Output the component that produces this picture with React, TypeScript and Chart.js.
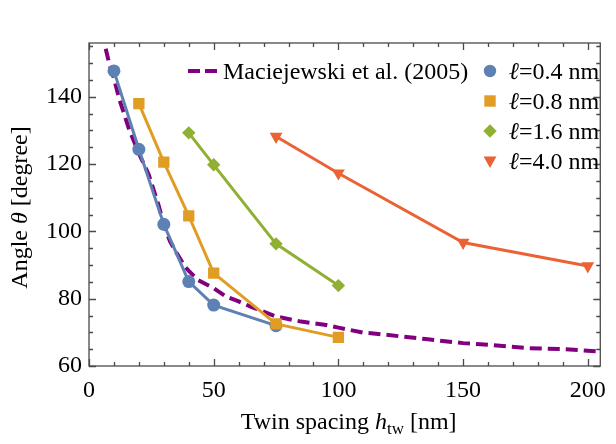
import React, { useEffect, useRef } from "react";
import { Chart, registerables } from "chart.js";

Chart.register(...registerables);

const FONT = "'Liberation Serif', 'Times New Roman', serif";
Chart.defaults.font.family = FONT;
Chart.defaults.font.size = 24;
Chart.defaults.color = "#000";

// ---- data ----
const X_04 = [10, 20, 30, 40, 50, 75];
const Y_04 = [147.7, 124.4, 102.1, 85.1, 78.1, 72.0];
const X_08 = [20, 30, 40, 50, 75, 100];
const Y_08 = [138.0, 120.6, 104.6, 87.6, 72.5, 68.5];
const X_16 = [40, 50, 75, 100];
const Y_16 = [129.3, 119.8, 96.3, 83.9];
const X_40 = [75, 100, 150, 200];
const Y_40 = [128.2, 117.3, 96.7, 89.7];
const X_REF = [6.7, 8.2, 10, 12.2, 16.1, 20, 24, 28, 30, 32.5, 34.4, 38.4, 40, 43.6, 50, 55, 60, 65, 75, 85, 95, 100, 110, 115, 125, 135, 150, 160, 176, 190, 205];
const Y_REF = [154.3, 149.6, 145.5, 139.2, 130.3, 123.2, 116.8, 107.5, 102, 97, 94.5, 89.6, 88.3, 85.6, 83.1, 80.6, 79.2, 77.6, 74.7, 73.2, 72.2, 71.4, 69.9, 69.6, 68.8, 68.0, 66.8, 66.3, 65.3, 65.0, 64.3];

const REF_LABEL = "Maciejewski et al. (2005)";
const ELL_VALUES = ["0.4", "0.8", "1.6", "4.0"];

const X_MIN = 0, X_MAX = 205, X_MAJOR = 50, X_MINOR = 10;
const Y_MIN = 60, Y_MAX = 156, Y_MAJOR = 20, Y_MINOR = 5;

const BLUE = "#5E81B5";
const ORANGE = "#E19C24";
const GREEN = "#8FB032";
const RED = "#EB6235";
const PURPLE = "#800080";
const FRAME = "#4a4a4a";

const pts = (xs: number[], ys: number[]) => xs.map((x, i) => ({ x, y: ys[i] }));

function drawMarker(ctx: CanvasRenderingContext2D, style: string, x: number, y: number, color: string) {
  ctx.fillStyle = color;
  ctx.beginPath();
  if (style === "circle") {
    ctx.arc(x, y, 6.2, 0, Math.PI * 2);
  } else if (style === "rect") {
    ctx.rect(x - 5.7, y - 5.7, 11.4, 11.4);
  } else if (style === "rectRot") {
    ctx.moveTo(x, y - 6.7);
    ctx.lineTo(x + 6.7, y);
    ctx.lineTo(x, y + 6.7);
    ctx.lineTo(x - 6.7, y);
    ctx.closePath();
  } else {
    ctx.moveTo(x - 6.5, y - 4.5);
    ctx.lineTo(x + 6.5, y - 4.5);
    ctx.lineTo(x, y + 7);
    ctx.closePath();
  }
  ctx.fill();
}

const framePlugin = {
  id: "frameTicks",
  afterDatasetsDraw(chart: any) {
    const { ctx, chartArea: a, scales } = chart;
    const xs = scales.x, ys = scales.y;
    ctx.save();
    ctx.strokeStyle = FRAME;
    ctx.lineWidth = 1.3;
    ctx.beginPath();
    for (let v = X_MIN; v <= X_MAX + 1e-9; v += X_MINOR) {
      const px = Math.round(xs.getPixelForValue(v)) + 0.5;
      const len = v % X_MAJOR === 0 ? 7 : 4;
      ctx.moveTo(px, a.bottom); ctx.lineTo(px, a.bottom - len);
      ctx.moveTo(px, a.top); ctx.lineTo(px, a.top + len);
    }
    for (let v = Y_MIN; v <= Y_MAX + 1e-9; v += Y_MINOR) {
      const py = Math.round(ys.getPixelForValue(v)) + 0.5;
      const len = v % Y_MAJOR === 0 ? 7 : 4;
      ctx.moveTo(a.left, py); ctx.lineTo(a.left + len, py);
      ctx.moveTo(a.right, py); ctx.lineTo(a.right - len, py);
    }
    ctx.stroke();
    ctx.strokeRect(a.left, a.top, a.right - a.left, a.bottom - a.top);
    ctx.restore();
  },
  afterDraw(chart: any) {
    const { ctx, chartArea: a } = chart;
    ctx.save();
    ctx.fillStyle = "#000";
    ctx.textBaseline = "alphabetic";
    // ---- x title ----
    const xParts: [string, string, number][] = [
      ["Twin spacing ", `24px ${FONT}`, 0],
      ["h", `italic 24px ${FONT}`, 0],
      ["tw", `17px ${FONT}`, 5],
      [" [nm]", `24px ${FONT}`, 0],
    ];
    let w = 0;
    for (const [t, f] of xParts) { ctx.font = f; w += ctx.measureText(t).width; }
    let cx = (a.left + a.right) / 2 + 4 - w / 2;
    for (const [t, f, dy] of xParts) {
      ctx.font = f;
      ctx.fillText(t, cx, 429 + dy);
      cx += ctx.measureText(t).width;
    }
    // ---- y title ----
    const yParts: [string, string][] = [
      ["Angle ", `24px ${FONT}`],
      ["\u03B8", `italic 24px ${FONT}`],
      [" [degree]", `24px ${FONT}`],
    ];
    w = 0;
    for (const [t, f] of yParts) { ctx.font = f; w += ctx.measureText(t).width; }
    ctx.save();
    ctx.translate(27, (a.top + a.bottom) / 2 + 3);
    ctx.rotate(-Math.PI / 2);
    let cy = -w / 2;
    for (const [t, f] of yParts) {
      ctx.font = f;
      ctx.fillText(t, cy, 0);
      cy += ctx.measureText(t).width;
    }
    ctx.restore();

    // ---- legend ----
    const ds = chart.data.datasets;
    const ref = ds.find((d: any) => d.isRef);
    ctx.save();
    ctx.strokeStyle = ref.borderColor;
    ctx.lineWidth = 4;
    ctx.setLineDash([12, 5]);
    ctx.beginPath();
    ctx.moveTo(188, 71);
    ctx.lineTo(218, 71);
    ctx.stroke();
    ctx.restore();
    ctx.font = `24px ${FONT}`;
    ctx.fillText(ref.label, 223, 78.5);

    const marks = ds.filter((d: any) => !d.isRef).sort((p: any, q: any) => p.legendIndex - q.legendIndex);
    marks.forEach((d: any, i: number) => {
      const my = 71 + i * 30;
      drawMarker(ctx, d.pointStyle, 490, my, d.backgroundColor);
      ctx.fillStyle = "#000";
      const label: string = d.label;
      ctx.font = `italic 24px ${FONT}`;
      ctx.fillText(label[0], 509, my + 7.5);
      const lw = ctx.measureText(label[0]).width;
      ctx.font = `24px ${FONT}`;
      ctx.fillText(label.slice(1), 509 + lw, my + 7.5);
    });
    ctx.restore();
  },
};

export default function App() {
  const ref = useRef<HTMLCanvasElement | null>(null);
  useEffect(() => {
    document.body.style.margin = "0";
    const canvas = ref.current;
    if (!canvas) return;
    const line = (label: string, xs: number[], ys: number[], color: string, style: string, radius: number, order: number, legendIndex: number, rotation = 0) => ({
      label,
      data: pts(xs, ys),
      borderColor: color,
      backgroundColor: color,
      borderWidth: 3,
      pointStyle: style,
      pointRadius: radius,
      pointRotation: rotation,
      pointBorderWidth: 0,
      pointHoverRadius: radius,
      tension: 0,
      order,
      legendIndex,
    });
    const tickFont = { family: FONT, size: 24 };
    const chart = new Chart(canvas, {
      type: "line",
      data: {
        datasets: [
          line(`\u2113=${ELL_VALUES[0]} nm`, X_04, Y_04, BLUE, "circle", 6.5, 1, 0),
          line(`\u2113=${ELL_VALUES[1]} nm`, X_08, Y_08, ORANGE, "rect", 8.0, 0, 1),
          line(`\u2113=${ELL_VALUES[2]} nm`, X_16, Y_16, GREEN, "rectRot", 6.7, 2, 2),
          line(`\u2113=${ELL_VALUES[3]} nm`, X_40, Y_40, RED, "triangle", 7.4, 3, 3, 180),
          {
            label: REF_LABEL,
            data: pts(X_REF, Y_REF),
            borderColor: PURPLE,
            backgroundColor: PURPLE,
            borderWidth: 4,
            borderDash: [12, 6],
            pointRadius: 0,
            tension: 0,
            order: 4,
            isRef: true,
          } as any,
        ],
      },
      options: {
        animation: false,
        responsive: false,
        devicePixelRatio: 1,
        layout: { padding: { top: 43, right: 5, left: 0, bottom: 0 } },
        plugins: { legend: { display: false }, tooltip: { enabled: false } },
        events: [],
        scales: {
          x: {
            type: "linear",
            min: X_MIN,
            max: X_MAX,
            grid: { display: false, drawTicks: false },
            border: { display: false },
            ticks: {
              stepSize: X_MAJOR,
              includeBounds: false,
              autoSkip: false,
              maxRotation: 0,
              color: "#000",
              padding: 10,
              font: tickFont,
              callback: (v: any) => String(v),
            },
            afterFit: (s: any) => { s.height = 78; },
          },
          y: {
            type: "linear",
            min: Y_MIN,
            max: Y_MAX,
            grid: { display: false, drawTicks: false },
            border: { display: false },
            ticks: {
              stepSize: Y_MAJOR,
              includeBounds: false,
              autoSkip: false,
              color: "#000",
              padding: 7,
              font: tickFont,
              callback: (v: any) => String(v),
            },
            afterFit: (s: any) => { s.width = 89; },
          },
        },
      },
      plugins: [framePlugin],
    } as any);
    return () => chart.destroy();
  }, []);
  return (
    <div style={{ width: 616, height: 444 }}>
      <canvas ref={ref} width={616} height={444} style={{ display: "block" }} />
    </div>
  );
}
